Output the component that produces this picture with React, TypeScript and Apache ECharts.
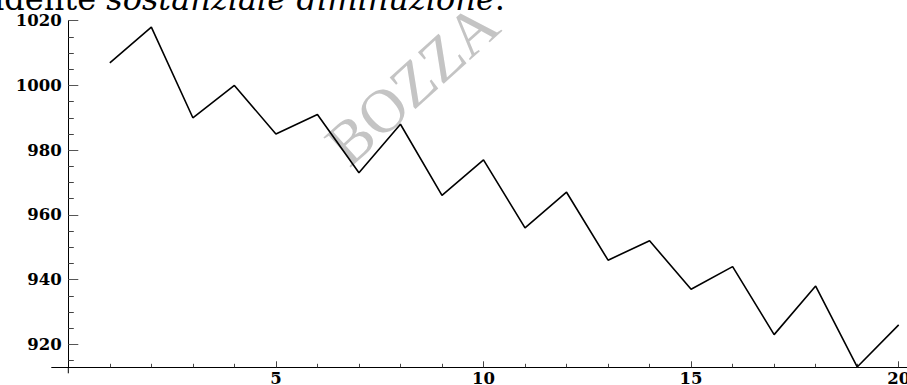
import React, { useEffect, useRef } from 'react';
import * as echarts from 'echarts';

const xValues = [1, 2, 3, 4, 5, 6, 7, 8, 9, 10, 11, 12, 13, 14, 15, 16, 17, 18, 19, 20];
const yValues = [1007, 1018, 990, 1000, 985, 991, 973, 988, 966, 977, 956, 967, 946, 952, 937, 944, 923, 938, 913, 926];

const xMajorTicks = [5, 10, 15, 20];
const xMinorTicks = [1, 2, 3, 4, 6, 7, 8, 9, 11, 12, 13, 14, 16, 17, 18, 19];
const yMajorTicks = [920, 940, 960, 980, 1000, 1020];
const yMinorTicks = [915, 925, 930, 935, 945, 950, 955, 965, 970, 975, 985, 990, 995, 1005, 1010, 1015];

const xMin = -0.4;
const xMax = 20.2;
const yMin = 912.9;
const yMax = 1020;

const captionNormal1 = 'evidente ';
const captionItalic = 'sostanziale diminuzione';
const captionNormal2 = '.';
const watermark = 'BOZZA';

export default function App() {
  const ref = useRef<HTMLDivElement>(null);
  useEffect(() => {
    const chart = echarts.init(ref.current!, null, { renderer: 'svg' });
    const labelStyle = {
      fontFamily: 'DejaVu Serif',
      fontWeight: 'bold' as const,
      fontSize: 16.5,
      color: '#000',
    };
    const fmt = (v: number) => String(Math.round(v));
    const graphicBase: any[] = [
      {
        id: 'wm',
        type: 'text',
        x: 412,
        y: 84,
        rotation: (42 * Math.PI) / 180,
        z: 0,
        style: {
          text: watermark,
          fontFamily: 'Liberation Serif',
          fontSize: 62,
          fill: '#c4c4c4',
          textAlign: 'center',
          textVerticalAlign: 'middle',
          align: 'center',
          verticalAlign: 'middle',
        },
      },
      {
        id: 'caption',
        type: 'text',
        x: -43,
        y: -1,
        z: 0,
        style: {
          text: `{n|${captionNormal1}}{i|${captionItalic}}{n|${captionNormal2}}`,
          fill: '#000',
          textVerticalAlign: 'middle',
          verticalAlign: 'middle',
          rich: {
            n: { fontFamily: 'DejaVu Serif', fontSize: 32, fill: '#000', color: '#000' },
            i: { fontFamily: 'DejaVu Serif', fontStyle: 'italic', fontSize: 32, fill: '#000', color: '#000' },
          },
        },
      },
    ];
    chart.setOption({
      animation: false,
      backgroundColor: '#fff',
      grid: {
        left: 51.7,
        right: 0,
        top: 20.7,
        bottom: 17.7,
        containLabel: false,
        outerBoundsMode: 'none',
      },
      xAxis: [
        {
          type: 'value',
          min: xMin,
          max: xMax,
          splitLine: { show: false },
          axisLine: { show: true, onZero: false, lineStyle: { color: '#000', width: 1 } },
          axisTick: { show: true, inside: true, length: 6, customValues: xMajorTicks, lineStyle: { color: '#444', width: 1 } },
          axisLabel: { show: true, customValues: xMajorTicks, margin: 3, formatter: fmt, ...labelStyle },
        },
        {
          type: 'value',
          min: xMin,
          max: xMax,
          position: 'bottom',
          splitLine: { show: false },
          axisLine: { show: false, onZero: false },
          axisTick: { show: true, inside: true, length: 3.5, customValues: xMinorTicks, lineStyle: { color: '#444', width: 1 } },
          axisLabel: { show: false },
        },
      ],
      yAxis: [
        {
          type: 'value',
          min: yMin,
          max: yMax,
          splitLine: { show: false },
          axisLine: { show: true, onZero: true, lineStyle: { color: '#000', width: 1 } },
          axisTick: { show: true, inside: true, length: 10, customValues: yMajorTicks, lineStyle: { color: '#555', width: 1 } },
          axisLabel: { show: true, customValues: yMajorTicks, margin: -10, formatter: fmt, ...labelStyle },
        },
        {
          type: 'value',
          min: yMin,
          max: yMax,
          position: 'left',
          splitLine: { show: false },
          axisLine: { show: false, onZero: true },
          axisTick: { show: true, inside: true, length: 5.5, customValues: yMinorTicks, lineStyle: { color: '#444', width: 1 } },
          axisLabel: { show: false },
        },
      ],
      series: [
        {
          type: 'line',
          xAxisIndex: 0,
          yAxisIndex: 0,
          data: xValues.map((x, i) => [x, yValues[i]]),
          symbol: 'none',
          z: 5,
          lineStyle: { color: '#000', width: 1.6 },
        },
      ],
      graphic: graphicBase,
    });
    const p = chart.convertToPixel({ xAxisIndex: 0, yAxisIndex: 0 }, [0, yMin]) as number[];
    chart.setOption({
      graphic: [
        ...graphicBase,
        {
          id: 'yext',
          type: 'line',
          z: 3,
          shape: { x1: p[0], y1: p[1], x2: p[0], y2: p[1] + 6 },
          style: { stroke: '#000', lineWidth: 1 },
        },
      ],
    });
    return () => chart.dispose();
  }, []);
  return (
    <div
      ref={ref}
      style={{ position: 'fixed', left: 0, top: 0, width: 907, height: 385, background: '#fff' }}
    />
  );
}
